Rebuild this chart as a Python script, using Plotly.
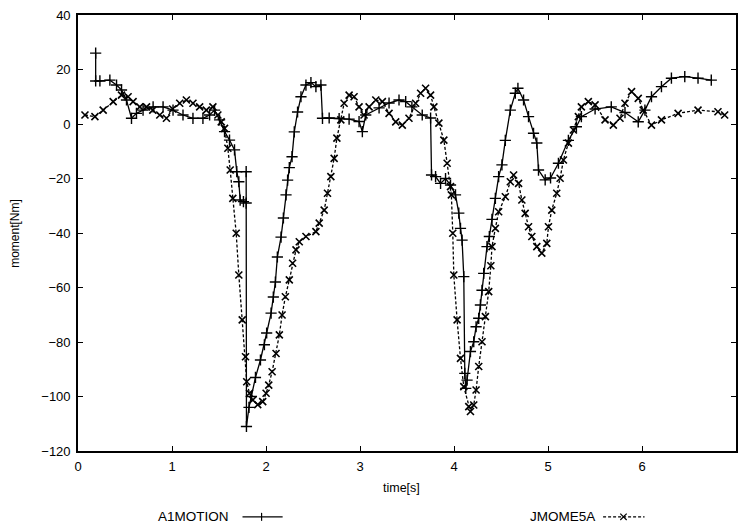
import plotly.graph_objects as go

# ---- data ----
a1_time = [0.188, 0.188, 0.233, 0.339, 0.410, 0.463, 0.516, 0.569, 0.622, 0.692, 0.799, 0.905,
           1.011, 1.117, 1.223, 1.329, 1.400, 1.453, 1.506, 1.559, 1.612, 1.665, 1.689, 1.711,
           1.725, 1.760, 1.789, 1.789, 1.792, 1.819, 1.845, 1.888, 1.941, 1.983, 2.007, 2.054,
           2.078, 2.100, 2.121, 2.160, 2.185, 2.213, 2.230, 2.248, 2.277, 2.301, 2.336, 2.372,
           2.425, 2.478, 2.531, 2.584, 2.601, 2.672, 2.778, 2.884, 2.990, 3.025, 3.061, 3.203,
           3.309, 3.415, 3.486, 3.552, 3.662, 3.751, 3.761, 3.804, 3.857, 3.910, 3.963, 4.016,
           4.051, 4.069, 4.086, 4.104, 4.115, 4.125, 4.139, 4.175, 4.210, 4.235, 4.263, 4.281,
           4.298, 4.316, 4.351, 4.376, 4.404, 4.440, 4.475, 4.510, 4.546, 4.599, 4.652, 4.680,
           4.740, 4.793, 4.846, 4.881, 4.899, 4.970, 5.027, 5.111, 5.217, 5.302, 5.355, 5.501,
           5.673, 5.819, 5.960, 6.031, 6.101, 6.207, 6.313, 6.455, 6.596, 6.737]
a1_moment = [26, 15.8, 15.8, 16.1, 14.3, 12.5, 8.8, 2.1, 3.9, 5.1, 6.3, 6.3,
             5.1, 3.3, 2.1, 2.1, 3.3, 5.1, 1.5, -2.8, -5.9, -9.5, -17.5, -21.2,
             -27.9, -28.5, -29, -17.5, -111, -104, -100, -93, -86.6, -81, -76.7, -69.4,
             -63.5, -58, -48.8, -41.5, -34.5, -26, -20.6, -16, -12, -2.9, 4.4, 10,
             14.3, 15.2, 13.7, 14.3, 2.1, 2.2, 2.0, 1.8, 0.9, -2.8, 3.3, 5.9,
             7.7, 8.8, 8.2, 6.3, 3.3, 2.2, -18.7, -19.3, -21.8, -20, -22.4, -26,
             -32.7, -38.3, -42.6, -56, -91.5, -97, -94, -83.5, -79.9, -74.4, -71.3, -66.4,
             -61, -54.8, -45, -41.3, -35, -27.3, -19.3, -15, -6, 5.1, 11.3, 13.1,
             8.8, 2.7, -3.4, -7, -16.9, -20.5, -19.8, -14.4, -6, -1, 2.7, 5.5,
             6.3, 4.2, 0.8, 5.1, 10, 13.7, 16.8, 17.4, 16.8, 16.1]

jm_time = [0.074, 0.180, 0.268, 0.374, 0.463, 0.533, 0.586, 0.657, 0.729, 0.795, 0.870, 0.941,
           1.007, 1.082, 1.153, 1.223, 1.294, 1.365, 1.435, 1.488, 1.524, 1.559, 1.594, 1.619,
           1.647, 1.683, 1.711, 1.747, 1.782, 1.795, 1.824, 1.859, 1.912, 1.965, 2.001, 2.029,
           2.065, 2.107, 2.142, 2.171, 2.206, 2.248, 2.283, 2.319, 2.354, 2.425, 2.531, 2.566,
           2.619, 2.654, 2.690, 2.725, 2.754, 2.796, 2.831, 2.884, 2.937, 2.990, 3.043, 3.097,
           3.168, 3.238, 3.309, 3.380, 3.450, 3.521, 3.592, 3.645, 3.698, 3.751, 3.786, 3.839,
           3.892, 3.927, 3.963, 3.972, 3.987, 3.998, 4.033, 4.069, 4.104, 4.157, 4.175, 4.210,
           4.235, 4.263, 4.298, 4.334, 4.369, 4.392, 4.404, 4.440, 4.475, 4.546, 4.599, 4.634,
           4.687, 4.722, 4.757, 4.793, 4.828, 4.881, 4.934, 4.987, 5.005, 5.040, 5.093, 5.129,
           5.164, 5.217, 5.270, 5.323, 5.355, 5.429, 5.501, 5.607, 5.695, 5.766, 5.819, 5.889,
           5.960, 6.013, 6.101, 6.207, 6.384, 6.596, 6.808, 6.879]
jm_moment = [3.3, 2.7, 5.1, 8.2, 10.6, 10, 8.2, 6.3, 6.3, 5.1, 3.3, 2.1,
             5.5, 7.6, 8.8, 7.6, 6.3, 5.1, 6.3, 3.3, 0.8, -1.6, -8.9, -16.9,
             -27.3, -40.1, -55.4, -71.9, -85.4, -94.6, -98.8, -101.3, -103, -101.9, -98.8, -95.8,
             -90.9, -84.2, -77.4, -70.1, -63.4, -57.2, -51.1, -46.2, -43.2, -41.3, -39.5, -36.4,
             -31.6, -25.4, -19.3, -12.6, -5.2, 1.5, 7.6, 10.6, 10, 6.3, 3.3, 6.3,
             8.8, 8.2, 3.9, 0.8, -0.4, 2.1, 7.6, 11.3, 13.1, 10.6, 6.3, 0.3,
             -5.9, -14.4, -23, -26, -40.1, -55.4, -71.9, -86, -96.4, -103.7, -105.5, -103.1,
             -97.6, -89, -79.9, -70.7, -61.5, -52, -45, -38.3, -32.2, -26.7, -21.2, -18.7,
             -21.8, -27.9, -32.8, -37.7, -41.3, -45, -47.4, -43.8, -37.7, -31.6, -25.4, -19.9,
             -13.2, -7, -2.2, 2.7, 6.3, 8.2, 7, 1.5, -0.4, 2.1, 7.6, 11.9,
             9.4, 5.1, -0.4, 1.5, 3.9, 5.1, 4.5, 3.3]

series_names = ["A1MOTION", "JMOME5A"]
x_ticks = [0, 1, 2, 3, 4, 5, 6, 7]
y_ticks = [-120, -100, -80, -60, -40, -20, 0, 20, 40]

FONT = "Liberation Sans, Arial, sans-serif"

fig = go.Figure()
fig.add_trace(go.Scatter(
    x=a1_time, y=a1_moment, name=series_names[0], mode="lines+markers",
    line=dict(color="black", width=1.3),
    marker=dict(symbol="cross-thin", size=8, color="black", line=dict(color="black", width=1.4)),
    showlegend=False))
fig.add_trace(go.Scatter(
    x=jm_time, y=jm_moment, name=series_names[1], mode="lines+markers",
    line=dict(color="black", width=1.3, dash="3px,2px"),
    marker=dict(symbol="x-thin", size=7, color="black", line=dict(color="black", width=1.6)),
    showlegend=False))

axis_common = dict(showline=True, linecolor="black", linewidth=1.6, mirror="ticks",
                   ticks="inside", ticklen=5, tickwidth=1.2, tickcolor="black",
                   showgrid=False, zeroline=False,
                   tickfont=dict(family=FONT, size=13, color="black"))

fig.update_xaxes(range=[0, 7], tickvals=x_ticks, ticklabelstandoff=3, **axis_common)
fig.update_yaxes(range=[-120, 40], tickvals=y_ticks, ticklabelstandoff=3, **axis_common)

LEG_Y = -0.151
annos = [
    dict(text="moment[Nm]", x=-0.096, y=0.5, xref="paper", yref="paper", textangle=-90,
         xanchor="center", yanchor="middle",
         showarrow=False, font=dict(family=FONT, size=12, color="black")),
    dict(text="time[s]", x=0.492, y=-0.085, xref="paper", yref="paper",
         xanchor="center", yanchor="middle",
         showarrow=False, font=dict(family=FONT, size=12.5, color="black")),
    dict(text=series_names[0], x=0.232, y=LEG_Y, xref="paper", yref="paper",
         xanchor="right", yanchor="middle",
         showarrow=False, font=dict(family=FONT, size=13.5, color="black")),
    dict(text=series_names[1], x=0.788, y=LEG_Y, xref="paper", yref="paper",
         xanchor="right", yanchor="middle",
         showarrow=False, font=dict(family=FONT, size=13.5, color="black")),
]
dx, dy = 4 / 660, 4 / 436
shapes = [
    # A1MOTION sample: solid line with +
    dict(type="line", xref="paper", yref="paper", x0=0.250, x1=0.311, y0=LEG_Y, y1=LEG_Y,
         line=dict(color="black", width=1.2)),
    dict(type="line", xref="paper", yref="paper", x0=0.279, x1=0.279, y0=LEG_Y - dy, y1=LEG_Y + dy,
         line=dict(color="black", width=1.2)),
    # JMOME5A sample: dashed line with x
    dict(type="line", xref="paper", yref="paper", x0=0.798, x1=0.861, y0=LEG_Y, y1=LEG_Y,
         line=dict(color="black", width=1.2, dash="3px,2px")),
    dict(type="line", xref="paper", yref="paper", x0=0.829 - dx * 0.8, x1=0.829 + dx * 0.8,
         y0=LEG_Y - dy * 0.8, y1=LEG_Y + dy * 0.8, line=dict(color="black", width=1.2)),
    dict(type="line", xref="paper", yref="paper", x0=0.829 - dx * 0.8, x1=0.829 + dx * 0.8,
         y0=LEG_Y + dy * 0.8, y1=LEG_Y - dy * 0.8, line=dict(color="black", width=1.2)),
]

fig.update_layout(
    width=738, height=529,
    margin=dict(l=78, r=0, t=15, b=78),
    paper_bgcolor="white", plot_bgcolor="white",
    annotations=annos, shapes=shapes,
    font=dict(family=FONT, color="black"),
)

fig.write_html("out.html")
